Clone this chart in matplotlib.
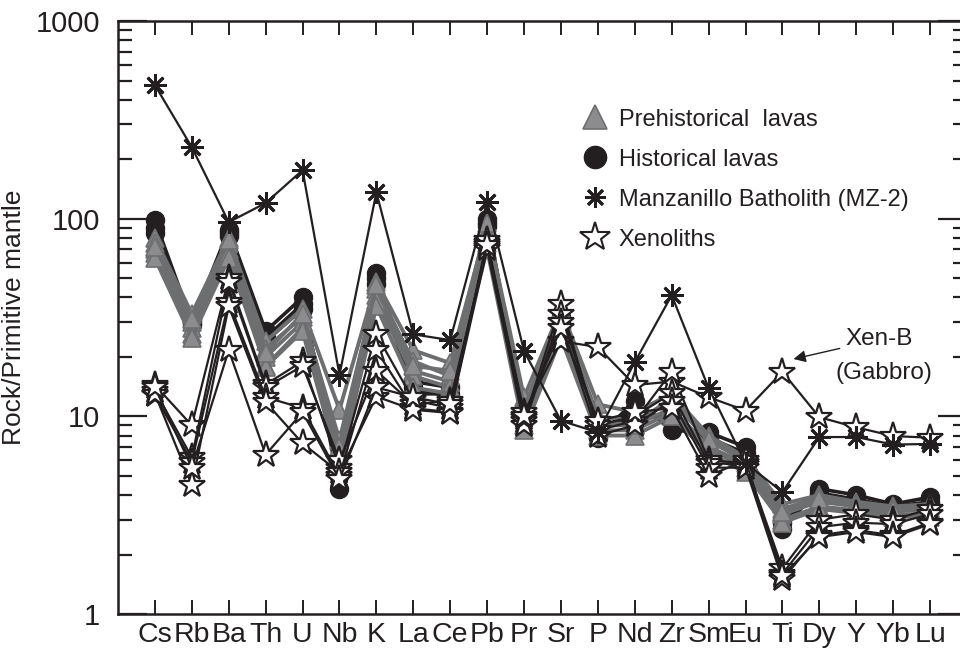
import numpy as np
import matplotlib
matplotlib.use("Agg")
import matplotlib.pyplot as plt
from matplotlib.lines import Line2D

plt.rcParams['font.family'] = ['Liberation Sans', 'DejaVu Sans']

elements = ['Cs', 'Rb', 'Ba', 'Th', 'U', 'Nb', 'K', 'La', 'Ce', 'Pb', 'Pr',
            'Sr', 'P', 'Nd', 'Zr', 'Sm', 'Eu', 'Ti', 'Dy', 'Y', 'Yb', 'Lu']

# lavas prehistoricas (triangulos grises)
prehistorical = [
    [80, 33, 80, 24, 35, 10.8, 48, 21.6, 18.6, 92, 12.5, 35, 11.5, 10.5, 13, 8.0, 6.2, 3.6, 4.0, 3.7, 3.5, 3.6],
    [75, 30, 75, 22, 32, 7.6, 44, 19, 16, 86, 11, 32, 10, 9.5, 12, 7.5, 6.0, 3.4, 3.9, 3.6, 3.4, 3.5],
    [70, 28, 70, 20, 30, 6.5, 41, 17, 15, 80, 10, 29, 9.5, 9.0, 11, 7.0, 5.8, 3.2, 3.7, 3.5, 3.3, 3.4],
    [67, 26, 67, 18, 28, 6.0, 39, 16, 14, 75, 9, 27, 8.5, 8.5, 10.5, 6.8, 5.5, 3.0, 3.5, 3.35, 3.2, 3.2],
    [63, 25, 63, 17.8, 27, 5.5, 36, 14, 13, 70, 8.5, 25, 8.0, 8.0, 10, 6.5, 5.2, 2.9, 3.4, 3.24, 3.1, 3.1],
    [72, 31, 78, 21, 33, 7.0, 46, 18, 17, 95, 10.5, 30, 9.0, 9.0, 12.5, 7.6, 6.0, 3.3, 3.8, 3.5, 3.35, 3.45],
]

# lavas historicas (circulos negros)
historical = [
    [98, 30, 88, 27, 40, 4.3, 53, 14, 12.5, 100, 10, 30, 7.8, 12, 8.5, 8.3, 7.0, 2.7, 4.3, 4.0, 3.6, 3.9],
    [90, 29, 85, 25, 37, 5.0, 50, 13, 13, 95, 11, 32, 8.2, 11, 9.5, 7.8, 6.5, 2.9, 4.1, 3.8, 3.5, 3.7],
    [85, 31, 82, 24, 35, 5.5, 47, 15, 14, 92, 10.5, 28, 8.5, 10, 10, 7.5, 6.2, 3.0, 4.0, 3.7, 3.4, 3.6],
]

# batolito de Manzanillo MZ-2
mz2 = [474, 230, 96, 120, 176, 16.2, 136, 26, 24.3, 122, 21.4, 9.5, 8.3, 18.8, 41,
       13.9, 5.8, 4.14, 7.86, 7.86, 7.2, 7.25]

# xenolitos (el primero es Xen-B, gabro)
xenoliths = [
    [14.4, 9.0, 50, 14.5, 19, 5.5, 26, 12.1, 11, 75, 10.5, 24, 22.4, 14.4, 15, 12.5, 10.7, 16.8, 9.9, 8.8, 7.95, 7.8],
    [13.5, 6.2, 48, 14.0, 18, 6.0, 17, 11.5, 12, 72, 9.5, 37, 8.5, 9.5, 16.8, 6.0, 5.8, 1.7, 3.0, 3.2, 3.0, 3.4],
    [12.8, 5.9, 38, 12.5, 11, 5.0, 21.6, 11, 10.5, 70, 9.0, 33, 9.0, 10, 13.1, 5.8, 5.7, 1.6, 2.75, 2.9, 2.85, 3.2],
    [13.0, 4.5, 36, 11.8, 7.3, 5.2, 12.6, 10.8, 10.4, 78, 9.8, 30, 8.0, 9.0, 12, 5.5, 5.5, 1.5, 2.5, 2.66, 2.5, 2.9],
    [14.0, 5.5, 21.6, 6.4, 10.5, 4.8, 14, 12.5, 11.5, 74, 10, 28, 9.5, 10.5, 11, 5.0, 6.0, 1.55, 2.45, 2.6, 2.45, 2.85],
]

ink = '#231f20'
grey = '#8c8c8e'
grey_edge = '#6d6e70'

x = np.arange(len(elements))

fig = plt.figure(figsize=(9.6, 6.51), dpi=100)
ax = fig.add_axes([0.1229, 0.0568, 0.8844, 0.9109])

for s in historical:
    ax.plot(x, s, '-', color=ink, lw=2.6, marker='o', ms=13,
            mfc=ink, mec=ink, zorder=2)
for s in prehistorical:
    ax.plot(x, s, '-', color=grey_edge, lw=2.8, marker='^', ms=13,
            mfc=grey, mec=grey_edge, mew=1.2, zorder=3)
for s in xenoliths:
    ax.plot(x, s, '-', color=ink, lw=1.6, marker='*', ms=20,
            mfc='white', mec=ink, mew=1.6, zorder=4)
ax.plot(x, mz2, '-', color=ink, lw=1.6, marker=(8, 2, 0), ms=16,
        mec=ink, mew=2.0, zorder=5)

ax.set_yscale('log')
ax.set_ylim(1, 1000)
ax.set_xlim(-1, 22)
ax.set_yticks([1, 10, 100, 1000])
ax.set_yticklabels(['1', '10', '100', '1000'])
ax.set_xticks(x)
ax.set_xticklabels(elements)

ax.tick_params(axis='x', which='major', direction='in', top=True, bottom=True,
               length=10, width=1.4, labelsize=20.5, pad=6, colors=ink)
ax.tick_params(axis='y', which='major', direction='in', left=True, right=True,
               length=21, width=1.6, labelsize=21, pad=13, colors=ink)
ax.tick_params(axis='y', which='minor', direction='in', left=True, right=True,
               length=10, width=1.6, colors=ink)
ax.tick_params(axis='x', which='minor', bottom=False, top=False)
for sp in ax.spines.values():
    sp.set_linewidth(1.8)
    sp.set_color(ink)

ax.set_ylabel('Rock/Primitive mantle', fontsize=19, color=ink)
ax.yaxis.set_label_coords(-0.108, 0.5)

handles = [
    Line2D([], [], ls='none', marker='^', ms=17, mfc=grey, mec=grey_edge, mew=1.2),
    Line2D([], [], ls='none', marker='o', ms=16, mfc=ink, mec=ink),
    Line2D([], [], ls='none', marker=(8, 2, 0), ms=15, mec=ink, mew=2.0),
    Line2D([], [], ls='none', marker='*', ms=22, mfc='white', mec=ink, mew=1.5),
]
labels = ['Prehistorical  lavas', 'Historical lavas',
          'Manzanillo Batholith (MZ-2)', 'Xenoliths']
leg = ax.legend(handles, labels, loc='upper left', bbox_to_anchor=(0.516, 0.888),
                frameon=False, fontsize=17, labelspacing=0.76,
                handletextpad=0.25, handlelength=1.5)
for t in leg.get_texts():
    t.set_color(ink)

ax.annotate('Xen-B', xy=(17.3, 19.5), xytext=(18.7, 24.5),
            fontsize=17.5, color=ink, ha='left', va='center',
            arrowprops=dict(arrowstyle='-|>', color=ink, lw=1.0,
                            mutation_scale=18, shrinkA=2, shrinkB=0))
ax.text(19.75, 16.6, '(Gabbro)', fontsize=17.5, color=ink, ha='center', va='center')

fig.savefig('out.png', dpi=100)
